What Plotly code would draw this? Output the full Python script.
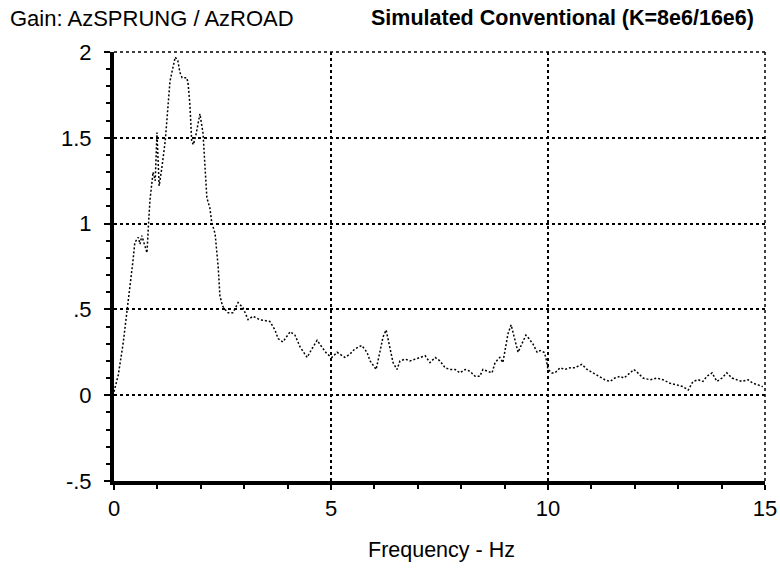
import plotly.graph_objects as go

freq_hz = [0.00, 0.10, 0.21, 0.30, 0.37, 0.44, 0.48, 0.56, 0.60, 0.64, 0.70, 0.76, 0.80, 0.83, 0.90, 0.95,
           0.99, 1.04, 1.10, 1.18, 1.29, 1.41, 1.47, 1.52, 1.57, 1.68, 1.71, 1.75, 1.79, 1.83, 1.89, 1.98,
           2.05, 2.10, 2.14, 2.21, 2.25, 2.33, 2.40, 2.44, 2.50, 2.56, 2.63, 2.74, 2.86, 2.97, 3.09, 3.20,
           3.36, 3.59, 3.71, 3.78, 3.89, 4.06, 4.17, 4.29, 4.45, 4.56, 4.68, 4.79, 4.91, 5.02, 5.14, 5.32,
           5.44, 5.55, 5.71, 5.83, 5.90, 6.04, 6.13, 6.20, 6.27, 6.34, 6.43, 6.52, 6.59, 6.71, 6.82, 6.94,
           7.05, 7.17, 7.28, 7.40, 7.51, 7.63, 7.74, 7.86, 7.97, 8.09, 8.20, 8.32, 8.43, 8.50, 8.60, 8.71,
           8.78, 8.89, 8.96, 9.01, 9.08, 9.15, 9.22, 9.31, 9.40, 9.49, 9.56, 9.65, 9.75, 9.82, 9.91, 9.95,
           10.00, 10.09, 10.16, 10.28, 10.39, 10.51, 10.62, 10.78, 10.90, 11.04, 11.20, 11.31, 11.43, 11.54,
           11.66, 11.75, 11.89, 11.98, 12.07, 12.19, 12.35, 12.51, 12.65, 12.81, 12.97, 13.11, 13.23, 13.34,
           13.46, 13.57, 13.66, 13.78, 13.89, 14.01, 14.12, 14.24, 14.35, 14.47, 14.61, 14.72, 14.84, 14.95]

gain = [0.02, 0.12, 0.30, 0.48, 0.63, 0.79, 0.89, 0.92, 0.88, 0.93, 0.88, 0.83, 1.02, 1.14, 1.30, 1.25,
        1.53, 1.22, 1.32, 1.48, 1.83, 1.97, 1.95, 1.88, 1.85, 1.85, 1.81, 1.69, 1.48, 1.46, 1.52, 1.64,
        1.53, 1.27, 1.15, 1.09, 1.01, 0.94, 0.75, 0.58, 0.52, 0.50, 0.48, 0.48, 0.54, 0.51, 0.44, 0.46,
        0.44, 0.43, 0.38, 0.33, 0.31, 0.37, 0.35, 0.28, 0.22, 0.27, 0.32, 0.28, 0.24, 0.22, 0.25, 0.22,
        0.24, 0.27, 0.29, 0.25, 0.20, 0.15, 0.26, 0.34, 0.38, 0.30, 0.19, 0.15, 0.20, 0.21, 0.20, 0.21,
        0.22, 0.23, 0.19, 0.22, 0.20, 0.16, 0.15, 0.15, 0.13, 0.15, 0.14, 0.11, 0.11, 0.15, 0.14, 0.13,
        0.19, 0.22, 0.19, 0.26, 0.36, 0.41, 0.34, 0.25, 0.30, 0.35, 0.33, 0.30, 0.25, 0.26, 0.25, 0.22,
        0.15, 0.13, 0.13, 0.16, 0.15, 0.16, 0.16, 0.18, 0.15, 0.13, 0.11, 0.09, 0.08, 0.10,
        0.11, 0.10, 0.13, 0.15, 0.13, 0.10, 0.09, 0.10, 0.09, 0.07, 0.06, 0.05, 0.03, 0.08,
        0.09, 0.08, 0.11, 0.13, 0.08, 0.10, 0.13, 0.10, 0.09, 0.08, 0.09, 0.07, 0.06, 0.05]

x_ticks = [0, 5, 10, 15]
x_labels = ["0", "5", "10", "15"]
y_ticks = [-0.5, 0, 0.5, 1, 1.5, 2]
y_labels = ["-.5", "0", ".5", "1", "1.5", "2"]

left_title = "Gain: AzSPRUNG / AzROAD"
right_title = "<b>Simulated Conventional (K=8e6/16e6)</b>"
x_title = "Frequency - Hz"

FONT = "Liberation Sans, Arial, sans-serif"

fig = go.Figure()
fig.add_trace(go.Scatter(x=freq_hz, y=gain, mode="lines",
                         line=dict(color="black", width=1.5, dash="2px,2px"),
                         hoverinfo="skip", showlegend=False))

border = dict(color="black", width=1.5, dash="dot")
fig.add_shape(type="line", xref="paper", yref="paper", x0=0, x1=1, y0=1, y1=1, line=border)
fig.add_shape(type="line", xref="paper", yref="paper", x0=1, x1=1, y0=0, y1=1, line=border)

fig.update_layout(
    width=780, height=568,
    margin=dict(l=114, r=15, t=52, b=87, autoexpand=False),
    paper_bgcolor="white", plot_bgcolor="white",
    font=dict(family=FONT, size=22, color="black"),
    showlegend=False,
    annotations=[
        dict(text=left_title, xref="paper", yref="paper", x=(8 - 114) / 651, y=(481 - 18) / 429,
             xanchor="left", yanchor="middle", showarrow=False, font=dict(size=22)),
        dict(text=right_title, xref="paper", yref="paper", x=(756 - 114) / 651, y=(481 - 18) / 429,
             xanchor="right", yanchor="middle", showarrow=False, font=dict(size=21.5)),
        dict(text=x_title, xref="paper", yref="paper", x=(441 - 114) / 651, y=(481 - 550) / 429,
             xanchor="center", yanchor="middle", showarrow=False, font=dict(size=21.5)),
    ],
)

fig.update_xaxes(
    range=[0, 15], tickvals=x_ticks, ticktext=x_labels, automargin=False,
    showgrid=True, gridcolor="black", gridwidth=1.5, griddash="dot",
    zeroline=False, showline=True, linecolor="black", linewidth=4,
    ticks="outside", ticklen=5, tickwidth=2, tickcolor="black",
    ticklabelstandoff=0,
    minor=dict(dtick=1, ticks="outside", ticklen=4, tickwidth=1.5, tickcolor="black", showgrid=False),
    fixedrange=True,
)
fig.update_yaxes(
    range=[-0.5, 2], tickvals=y_ticks, ticktext=y_labels, automargin=False,
    showgrid=True, gridcolor="black", gridwidth=1.5, griddash="dot",
    zeroline=False, showline=True, linecolor="black", linewidth=4,
    ticks="outside", ticklen=6, tickwidth=2, tickcolor="black",
    ticklabelstandoff=8,
    minor=dict(dtick=0.1, ticks="outside", ticklen=4, tickwidth=1.5, tickcolor="black", showgrid=False),
    fixedrange=True,
)

fig.write_html("out.html", config={"displayModeBar": False},
               post_script="document.body.style.margin='0';document.body.style.overflow='hidden';")
